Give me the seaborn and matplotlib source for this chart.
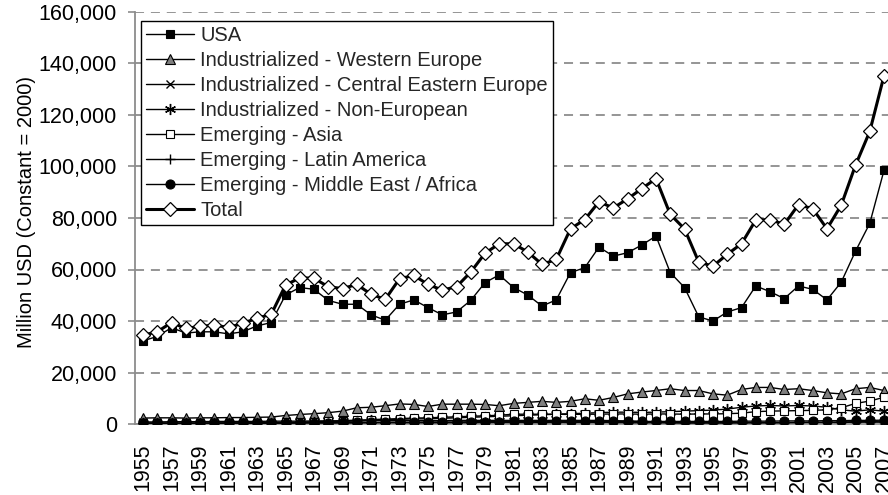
import matplotlib
matplotlib.use("Agg")
import matplotlib.pyplot as plt
import matplotlib.ticker as mticker
import numpy as np
import pandas as pd
import seaborn as sns

years = list(range(1955, 2008))

usa = [32300, 34000, 37400, 35300, 35800, 35800, 35000, 35800, 38100, 39400,
       50100, 53000, 52300, 48000, 46500, 46500, 42400, 40300, 46500, 48200,
       45200, 42400, 43500, 48000, 54900, 57900, 53000, 50100, 45800, 48200,
       58800, 60700, 68700, 65200, 66500, 69500, 73000, 58800, 53000, 41600,
       40000, 43500, 45200, 53600, 51400, 48700, 53600, 52300, 48200, 55100,
       67100, 77900, 98500]

western_europe = [2300, 2400, 2400, 2300, 2400, 2400, 2500, 2500, 2600, 2700,
                  3300, 3700, 4000, 4400, 5000, 6300, 6500, 7100, 7800, 7600,
                  6800, 7700, 7700, 7700, 7600, 7100, 8000, 8400, 8800, 8400,
                  8800, 9800, 9200, 10300, 11700, 12400, 13000, 13700, 13000, 13000,
                  11700, 11200, 13400, 14200, 14200, 13400, 13700, 13000, 12100, 11700,
                  13700, 14200, 13000]

central_eastern_europe = [800, 800, 900, 900, 900, 1000, 1000, 1000, 1000, 1100,
                          1100, 1100, 1200, 1200, 1200, 1200, 1300, 1300, 1300, 1300,
                          1300, 1300, 1400, 1400, 1400, 1400, 1400, 1400, 1400, 1400,
                          1400, 1400, 1400, 1300, 1200, 1000, 700, 500, 400, 400,
                          400, 400, 500, 500, 500, 600, 600, 700, 700, 800,
                          900, 1000, 1100]

non_european = [200, 200, 200, 200, 200, 300, 300, 300, 300, 300,
                400, 500, 700, 900, 1000, 1200, 1400, 1600, 1800, 2000,
                2000, 2200, 2400, 2600, 2800, 3000, 3200, 3400, 3600, 3800,
                4000, 4200, 4400, 4600, 4600, 4500, 4600, 4800, 5000, 5200,
                5400, 5800, 6500, 7000, 7200, 7000, 7200, 7000, 6500, 5500,
                5000, 5500, 5000]

emerging_asia = [300, 300, 300, 300, 300, 400, 400, 400, 500, 500,
                 600, 700, 900, 1100, 1300, 1500, 1700, 1900, 2100, 2300,
                 2400, 2600, 2800, 3000, 3200, 3400, 3800, 3800, 3800, 3800,
                 3700, 3800, 3800, 3900, 3900, 3800, 3900, 3900, 3800, 3900,
                 3900, 4000, 4200, 4800, 5000, 5100, 5200, 5300, 5500, 6300,
                 8000, 8900, 10400]

latin_america = [300, 300, 300, 300, 300, 300, 300, 300, 300, 300,
                 400, 400, 400, 400, 400, 400, 500, 500, 500, 500,
                 500, 500, 500, 500, 600, 600, 600, 600, 600, 600,
                 600, 600, 600, 600, 500, 500, 500, 500, 500, 500,
                 500, 500, 500, 500, 500, 500, 600, 600, 600, 600,
                 700, 700, 700]

middle_east_africa = [300, 300, 300, 300, 300, 300, 300, 400, 400, 400,
                      400, 500, 500, 500, 600, 600, 600, 700, 700, 700,
                      800, 800, 800, 900, 900, 900, 1000, 1000, 1000, 1000,
                      1000, 1000, 1000, 1000, 1000, 1000, 1000, 1000, 1000, 1000,
                      1000, 1000, 1100, 1100, 1100, 1200, 1200, 1200, 1300, 1300,
                      1400, 1400, 1500]

total = [34500, 35800, 39400, 37100, 37900, 38400, 37500, 39100, 41100, 42600,
         53900, 56800, 56600, 53300, 52600, 54200, 50400, 48400, 56400, 57700,
         54200, 52000, 53300, 59000, 66300, 70000, 70000, 66800, 62000, 63900,
         75800, 79400, 86300, 83900, 87400, 91400, 95300, 81400, 75800, 62900,
         61300, 65900, 70000, 79200, 79400, 77500, 85200, 83600, 75800, 85000,
         100500, 113600, 135200]

series_names = ["USA",
                "Industrialized - Western Europe",
                "Industrialized - Central Eastern Europe",
                "Industrialized - Non-European",
                "Emerging - Asia",
                "Emerging - Latin America",
                "Emerging - Middle East / Africa",
                "Total"]
series_values = [usa, western_europe, central_eastern_europe, non_european,
                 emerging_asia, latin_america, middle_east_africa, total]

ytick_values = list(range(0, 160001, 20000))
xtick_years = list(range(1955, 2008, 2))

df = pd.DataFrame({"year": np.repeat(years, len(series_names)),
                   "series": series_names * len(years),
                   "value": np.array(series_values).T.ravel()})

sns.set_style("white")
plt.rcParams["font.family"] = ["Liberation Sans", "DejaVu Sans"]

styles = {
    "USA": dict(marker="s", markersize=5.6, markerfacecolor="black",
                markeredgecolor="black", markeredgewidth=0.8, linewidth=1.0),
    "Industrialized - Western Europe": dict(marker="^", markersize=7,
                markerfacecolor="#7f7f7f", markeredgecolor="black",
                markeredgewidth=0.8, linewidth=1.0),
    "Industrialized - Central Eastern Europe": dict(marker="x", markersize=6,
                markerfacecolor="black", markeredgecolor="black",
                markeredgewidth=1.0, linewidth=1.0),
    "Industrialized - Non-European": dict(marker=(6, 2, 0), markersize=8,
                markerfacecolor="black", markeredgecolor="black",
                markeredgewidth=1.0, linewidth=1.0),
    "Emerging - Asia": dict(marker="s", markersize=6, markerfacecolor="white",
                markeredgecolor="black", markeredgewidth=0.8, linewidth=1.0),
    "Emerging - Latin America": dict(marker="+", markersize=7,
                markerfacecolor="black", markeredgecolor="black",
                markeredgewidth=1.0, linewidth=1.0),
    "Emerging - Middle East / Africa": dict(marker="o", markersize=6.5,
                markerfacecolor="black", markeredgecolor="black",
                markeredgewidth=0.8, linewidth=1.0),
    "Total": dict(marker="D", markersize=7, markerfacecolor="white",
                markeredgecolor="black", markeredgewidth=0.9, linewidth=2.2),
}

fig = plt.figure(figsize=(8.88, 4.95), dpi=100)
ax = fig.add_axes([135 / 888, 1 - 424 / 495, 753 / 888, 412 / 495])

for i, name in enumerate(series_names):
    sub = df[df["series"] == name]
    sns.lineplot(data=sub, x="year", y="value", ax=ax, color="black",
                 label=name, zorder=3 + i, **styles[name])

ax.set_xlim(1955 - 8 / 14.25, 2007 + 4 / 14.25)
ax.set_ylim(0, 160000)
ax.set_yticks(ytick_values)
ax.yaxis.set_major_formatter(mticker.FuncFormatter(lambda v, p: f"{int(v):,}"))
ax.set_xticks(xtick_years)
ax.set_xticklabels([str(y) for y in xtick_years], rotation=90)

ax.yaxis.grid(True, color="#8c8c8c", linewidth=1.3, linestyle=(0, (5, 3.8)))
ax.xaxis.grid(False)
ax.set_axisbelow(True)

for side in ["top", "right"]:
    ax.spines[side].set_visible(False)
ax.spines["left"].set_color("#8c8c8c")
ax.spines["left"].set_linewidth(1.3)
ax.spines["bottom"].set_color("#8c8c8c")
ax.spines["bottom"].set_linewidth(1.3)

ax.tick_params(axis="y", which="major", left=True, length=5, width=1.2,
               color="#8c8c8c", pad=8, labelsize=15.5, labelcolor="black")
ax.tick_params(axis="x", which="major", bottom=False, length=0, pad=14,
               labelsize=15.5, labelcolor="black")

ax.set_xlabel("")
ax.set_ylabel("Million USD (Constant = 2000)", fontsize=14.5, color="black")
ax.yaxis.set_label_coords(-99 / 753, 0.515)

handles, labels = ax.get_legend_handles_labels()
leg = fig.legend(handles, labels, loc="upper left",
                 bbox_to_anchor=(141 / 888, 1 - 21 / 495),
                 fontsize=14.5, frameon=True, fancybox=False, shadow=False,
                 framealpha=1, edgecolor="black", borderpad=0.25,
                 labelspacing=0.3, handlelength=2.4, handletextpad=0.3,
                 borderaxespad=0.0)
leg.get_frame().set_linewidth(1.0)
if ax.get_legend() is not None:
    ax.get_legend().remove()

fig.savefig("out.png", dpi=100)
